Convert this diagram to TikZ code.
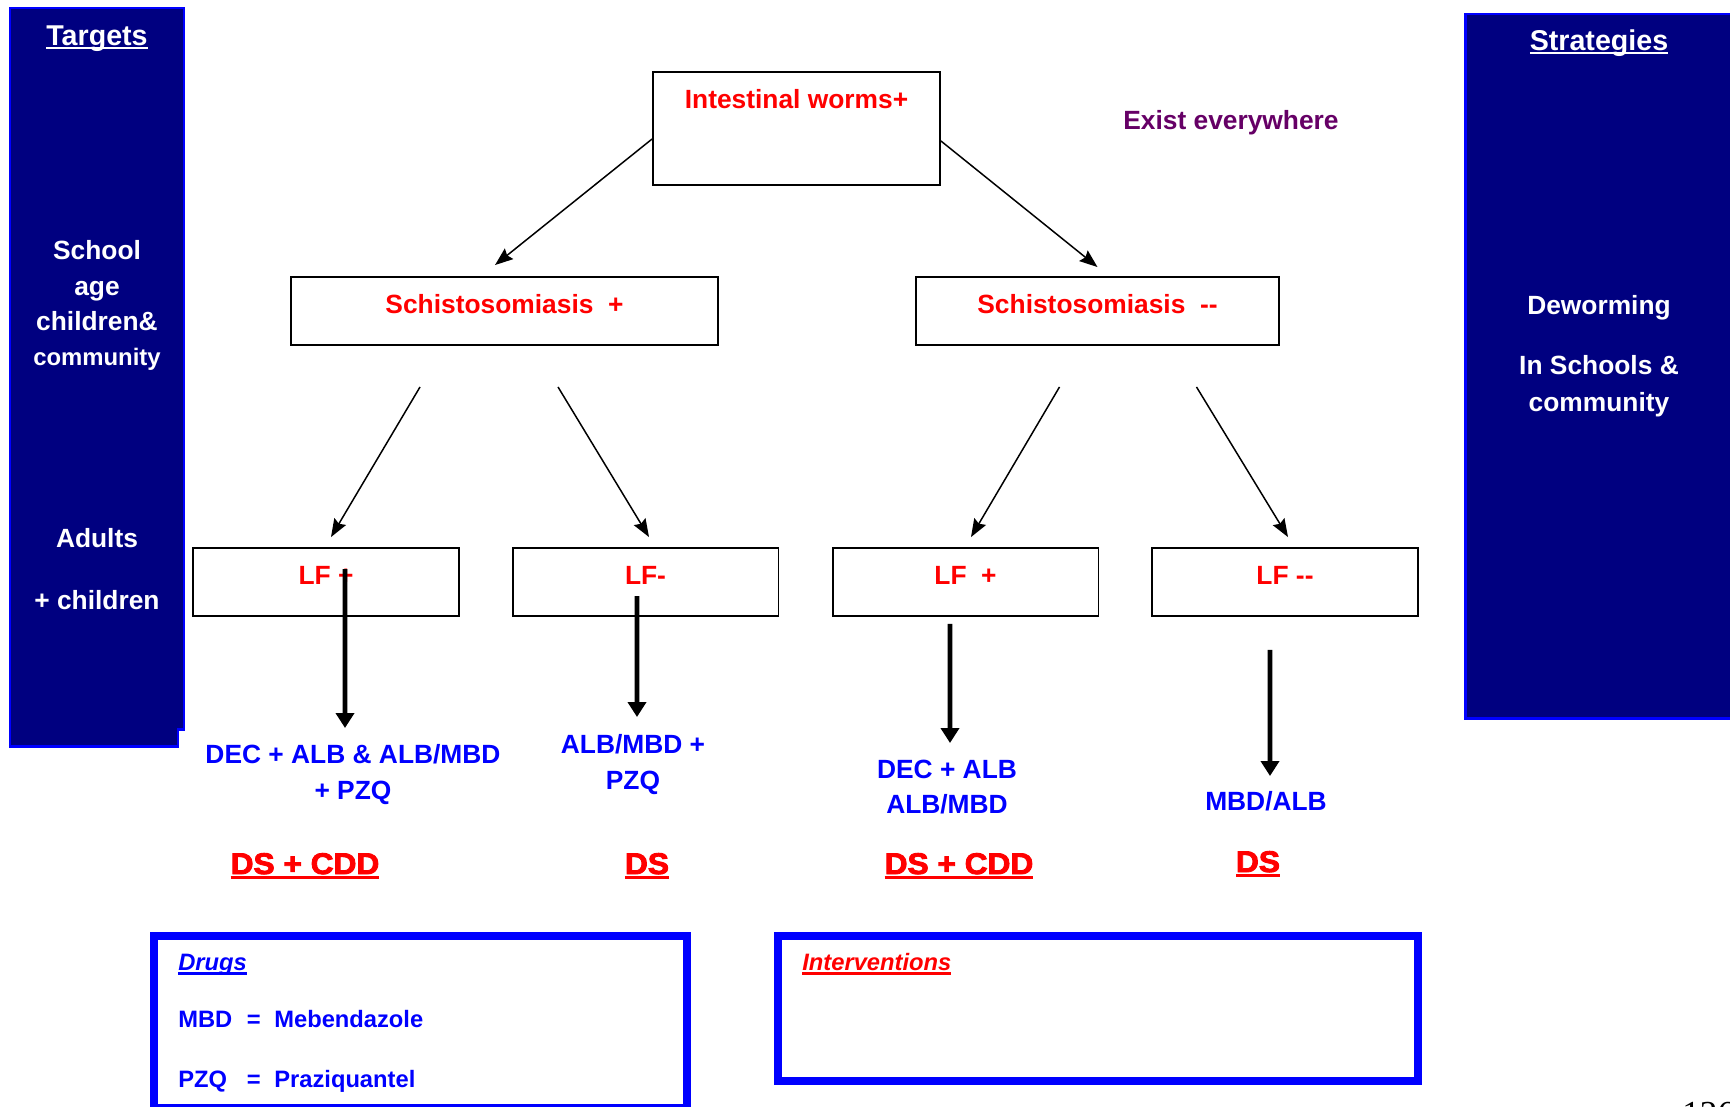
\documentclass[tikz,border=0pt]{standalone}
\usepackage{fontspec}
\setmainfont{Liberation Sans}
\newfontfamily\heavyfont[BoldFeatures={FakeBold=3,FakeStretch=1.06}]{Liberation Sans}
\newfontfamily\pagefont{Liberation Serif}
\usetikzlibrary{arrows.meta}
\definecolor{navy}{HTML}{000080}
\definecolor{plum}{HTML}{660066}
% text with a rule under it: drop, thickness, text
\newcommand{\undl}[3]{\setbox0=\hbox{#3}\rlap{\rule[-#1]{\wd0}{#2}}\box0}

\begin{document}
\begin{tikzpicture}[x=0.02cm, y=-0.02cm,
		txt/.style={font=\bfseries\fontsize{15}{20}\selectfont, inner sep=0pt},
		disbox/.style={txt, draw, line width=1.1pt, text=red},
		ds/.style={font=\heavyfont\bfseries\fontsize{17}{20}\selectfont, inner sep=0pt, text=red, anchor=base},
		lgd/.style={font=\bfseries\fontsize{13.5}{16}\selectfont, inner sep=0pt, text=blue, anchor=base west},
		panel/.style={fill=navy, draw=blue, line width=1.7pt},
		legendbox/.style={draw=blue, line width=4.5pt},
		arr/.style={->, >={Stealth[length=0.36cm,width=0.27cm,inset=0.05cm]}, line width=0.85pt},
		fatarr/.style={->, >={Triangle[length=0.3cm,width=0.36cm]}, line width=2.8pt}]
				\useasboundingbox (0,0) rectangle (1730,1106);
				\clip (0,0) rectangle (1730,1106);
				% side panels
				\filldraw[panel] (10,8) -- (184,8) -- (184,729) -- (178,729) -- (178,746) -- (10,746) -- cycle;
				\filldraw[panel] (1465,14) rectangle (1745,718);
				\node[txt, text=white, font=\bfseries\fontsize{16.3}{20}\selectfont, anchor=base] (targets)at(97, 45.3) {\undl{2.3pt}{1.1pt}{Targets}};
				\node[txt, text=white, align=center, anchor=north] (school)at(97, 240.5) {School\\age\\children\&\\{\fontsize{13.6}{20}\selectfont community}};
				\node[txt, text=white, align=center, anchor=north] (adults)at(97, 528.5) {Adults\\[15pt]+ children};
				\node[txt, text=white, font=\bfseries\fontsize{16.3}{20}\selectfont, anchor=base] (strat)at(1599, 50.3) {\undl{2.3pt}{1.1pt}{Strategies}};
				\node[txt, text=white, align=center, anchor=north] (dewo)at(1599, 295.5) {Deworming\\[14pt]In Schools \&\\[1pt]community};
				% tree
				\node[disbox, minimum width=5.74cm, text height=0.73cm, text depth=1.53cm] (worms)at(796.5, 128.5) {Intestinal worms+};
				\node[txt, text=plum, anchor=base] (exist)at(1231, 129.5) {Exist everywhere};
				\node[disbox, minimum width=8.54cm, text height=0.73cm, text depth=0.63cm] (schp)at(504.5, 311) {Schistosomiasis\ \ +};
				\node[disbox, minimum width=7.26cm, text height=0.73cm, text depth=0.63cm] (schm)at(1097.5, 311) {Schistosomiasis\ \ -{}-};
				\node[disbox, minimum width=5.32cm, text height=0.73cm, text depth=0.63cm] (lf1)at(326, 582) {LF +};
				\node[disbox, minimum width=5.32cm, text height=0.73cm, text depth=0.63cm] (lf2)at(645.5, 582) {LF-};
				\node[disbox, minimum width=5.32cm, text height=0.73cm, text depth=0.63cm] (lf3)at(965.5, 582) {LF\ \ +};
				\node[disbox, minimum width=5.32cm, text height=0.73cm, text depth=0.63cm] (lf4)at(1285, 582) {LF -{}-};
				\draw[arr] ([yshift=-0.21cm]worms.west) -- ([xshift=-0.19cm,yshift=0.22cm]schp.north);
				\draw[arr] ([yshift=-0.25cm]worms.east) -- ([yshift=0.18cm]schm.north);
				\draw[arr] ([xshift=-1.69cm,yshift=-0.82cm]schp.south) -- ([xshift=0.1cm,yshift=0.2cm]lf1.north);
				\draw[arr] ([xshift=1.07cm,yshift=-0.82cm]schp.south) -- ([xshift=0.07cm,yshift=0.2cm]lf2.north);
				\draw[arr] ([xshift=-0.76cm,yshift=-0.82cm]schm.south) -- ([xshift=0.11cm,yshift=0.2cm]lf3.north);
				\draw[arr] ([xshift=1.98cm,yshift=-0.82cm]schm.south) -- ([xshift=0.06cm,yshift=0.2cm]lf4.north);
				% drugs under each branch
				\node[txt, text=blue, align=center, anchor=north] (dec1)at(353, 744.5) {DEC + ALB \& ALB/MBD\\+ PZQ};
				\node[txt, text=blue, align=center, anchor=north] (alb2)at(633, 734.5) {ALB/MBD +\\PZQ};
				\node[txt, text=blue, align=center, anchor=north] (dec3)at(947, 759.5) {DEC + ALB\\ALB/MBD};
				\node[txt, text=blue, align=center, anchor=north] (mbd4)at(1266, 791.5) {MBD/ALB};
				\draw[fatarr] ([xshift=0.38cm,yshift=-0.44cm]lf1.north) -- ([xshift=-0.16cm,yshift=0.33cm]dec1.north);
				\draw[fatarr] ([xshift=-0.17cm,yshift=-0.98cm]lf2.north) -- ([xshift=0.08cm,yshift=0.35cm]alb2.north);
				\draw[fatarr] ([xshift=-0.31cm,yshift=-0.14cm]lf3.south) -- ([xshift=0.06cm,yshift=0.33cm]dec3.north);
				\draw[fatarr] ([xshift=-0.3cm,yshift=-0.66cm]lf4.south) -- ([xshift=0.08cm,yshift=0.31cm]mbd4.north);
				\node[ds] (ds1)at(305, 874) {\undl{2.8pt}{1.7pt}{DS + CDD}};
				\node[ds] (ds2)at(647, 874) {\undl{2.8pt}{1.7pt}{DS}};
				\node[ds] (ds3)at(959, 874) {\undl{2.8pt}{1.7pt}{DS + CDD}};
				\node[ds] (ds4)at(1258, 872) {\undl{2.8pt}{1.7pt}{DS}};
				% legend boxes
				\draw[legendbox] (154,936) rectangle (687,1108);
				\draw[legendbox] (778,936) rectangle (1418,1081);
				\node[lgd] (drugt)at(178, 970) {\itshape\undl{2.8pt}{1.5pt}{Drugs}};
				\node[lgd] (mbd)at(178, 1027.5) {\makebox[1.37cm][l]{MBD}\makebox[0.55cm][l]{=}Mebendazole};
				\node[lgd] (pzq)at(178, 1087.5) {\makebox[1.37cm][l]{PZQ}\makebox[0.55cm][l]{=}Praziquantel};
				\node[lgd, text=red] (intv)at(802, 970) {\itshape\undl{2.8pt}{1.5pt}{Interventions}};
				\node[font=\pagefont\fontsize{20}{24}\selectfont, anchor=north west, inner sep=0pt] (page)at(1682, 1102) {126};
			\end{tikzpicture}
\end{document}
